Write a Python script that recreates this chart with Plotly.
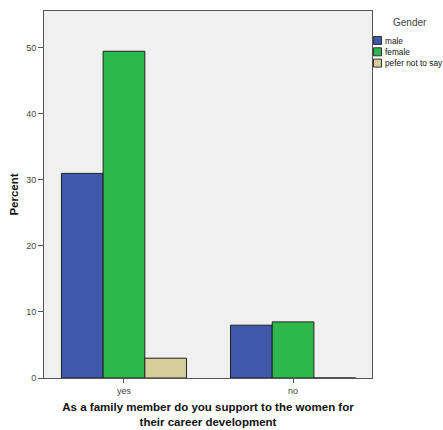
import plotly.graph_objects as go

categories = ["yes", "no"]
male = [31.0, 8.0]
female = [49.5, 8.5]
pefer = [3.0, 0.0]
series_names = ["male", "female", "pefer not to say"]
colors = ["#3F58AB", "#2DB84B", "#D4CE98"]
y_ticks = [0, 10, 20, 30, 40, 50]
legend_title = "Gender"

W, H = 443, 430
L, T = 44, 11
PR, PB = 372, 378  # plot right / bottom in px
R, B = W - PR, H - PB
PW, PH = PR - L, PB - T

def px_x(px):
    return (px - L) / PW

def px_y(py):
    return (PB - py) / PH

fig = go.Figure()
for name, vals, col in zip(series_names, [male, female, pefer], colors):
    fig.add_trace(go.Bar(
        x=categories, y=vals, name=name,
        marker=dict(color=col, line=dict(color="#222222", width=1)),
        showlegend=False,
    ))

# manual legend (compact, SPSS-style)
shapes = []
annotations = [dict(
    text=legend_title, xref="paper", yref="paper",
    x=px_x(410), y=px_y(22.5), xanchor="center", yanchor="middle",
    showarrow=False, font=dict(size=10, color="#444444"),
)]
row_y0, row_step = 40.5, 11.3
for i, (name, col) in enumerate(zip(series_names, colors)):
    cy = row_y0 + i * row_step
    shapes.append(dict(
        type="rect", xref="paper", yref="paper",
        x0=px_x(373.5), x1=px_x(381.5), y0=px_y(cy - 4), y1=px_y(cy + 4),
        fillcolor=col, line=dict(color="#333333", width=1),
    ))
    annotations.append(dict(
        text=name, xref="paper", yref="paper",
        x=px_x(382.5), y=px_y(cy), xanchor="left", yanchor="middle",
        showarrow=False, font=dict(size=8.3, color="#111111"),
    ))

fig.update_layout(
    width=W, height=H,
    margin=dict(l=L, r=R, t=T, b=B, autoexpand=False),
    paper_bgcolor="white",
    plot_bgcolor="#F0F0F0",
    barmode="group",
    bargap=0.26,
    bargroupgap=0,
    font=dict(family="Liberation Sans, Arial, sans-serif", size=9, color="#333333"),
    showlegend=False,
    shapes=shapes,
    annotations=annotations,
)
fig.update_xaxes(
    range=[-0.473, 1.467],
    showline=True, linecolor="#555555", linewidth=1, mirror=True,
    ticks="outside", ticklen=4, tickcolor="#555555",
    tickfont=dict(size=9, color="#444444"),
    showgrid=False,
    title=dict(
        text="<b>As a family member do you support to the women for<br>their career development</b>",
        font=dict(size=11.5, color="#111111"), standoff=8,
    ),
)
fig.update_yaxes(
    range=[0, 55.6],
    tickvals=y_ticks,
    showline=True, linecolor="#555555", linewidth=1, mirror=True,
    ticks="outside", ticklen=5, tickcolor="#555555",
    tickfont=dict(size=9, color="#444444"),
    showgrid=False, zeroline=False,
    title=dict(text="<b>Percent</b>", font=dict(size=11.5, color="#111111"), standoff=5),
)

fig.write_html(
    "out.html",
    config={"displayModeBar": False},
    post_script="document.body.style.margin='0';document.body.style.overflow='hidden';",
)
